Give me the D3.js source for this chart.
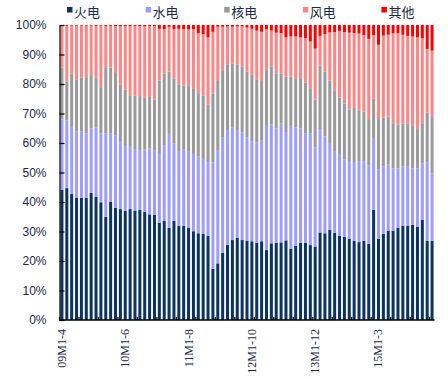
<!DOCTYPE html>
<html>
<head>
<meta charset="utf-8">
<script src="https://cdn.jsdelivr.net/npm/d3@7/dist/d3.min.js"></script>
<style>
    html, body { margin: 0; padding: 0; background: #fff; }
    svg { display: block; }
    .axis-label { font-family: "Liberation Sans", Arial, sans-serif; font-size: 12px; fill: #1b2a48; }
    .cat-label { font-family: "Liberation Serif", "Times New Roman", serif; font-size: 12px; fill: #1b2a48; }
    .legend-label { font-family: "Noto Sans CJK SC", sans-serif; font-size: 13px; fill: #1b2a48; }
</style>
</head>
<body>
<svg id="chart" width="448" height="379"></svg>
<script>
"use strict";

// categories (cumulative year-to-date months)
var categories = [
    '09M1-4', '09M1-5', '09M1-6', '09M1-7', '09M1-8', '09M1-9', '09M1-10', '09M1-11', '09M1-12',
    '10M1-2', '10M1-3', '10M1-4', '10M1-5', '10M1-6', '10M1-7', '10M1-8', '10M1-9', '10M1-10', '10M1-11', '10M1-12',
    '11M1-2', '11M1-3', '11M1-4', '11M1-5', '11M1-6', '11M1-7', '11M1-8', '11M1-9', '11M1-10', '11M1-11', '11M1-12',
    '12M1-2', '12M1-3', '12M1-4', '12M1-5', '12M1-6', '12M1-7', '12M1-8', '12M1-9', '12M1-10', '12M1-11', '12M1-12',
    '13M1-2', '13M1-3', '13M1-4', '13M1-5', '13M1-6', '13M1-7', '13M1-8', '13M1-9', '13M1-10', '13M1-11', '13M1-12',
    '14M1-2', '14M1-3', '14M1-4', '14M1-5', '14M1-6', '14M1-7', '14M1-8', '14M1-9', '14M1-10', '14M1-11', '14M1-12',
    '15M1-2', '15M1-3', '15M1-4', '15M1-5', '15M1-6', '15M1-7', '15M1-8', '15M1-9', '15M1-10', '15M1-11', '15M1-12',
    '16M1-2', '16M1-3'
];

var seriesNames = ['火电', '水电', '核电', '风电', '其他'];

var thermal = [
    44.1, 44.7, 42.7, 41.5, 41.4, 41.4, 43.1, 41.7, 39.9, 35.0, 40.0, 38.0, 37.6, 37.0, 37.6, 37.1, 37.3, 36.7, 35.8, 35.6,
    33.0, 33.6, 31.2, 33.6, 31.9, 31.9, 31.2, 30.1, 29.4, 29.2, 28.5, 17.4, 19.2, 22.8, 25.4, 27.1, 27.8, 27.1, 26.9, 26.7,
    26.2, 26.7, 23.7, 26.0, 26.2, 26.3, 27.0, 24.2, 25.1, 26.2, 26.2, 25.4, 24.9, 29.7, 29.4, 30.5, 29.6, 28.5, 28.2, 27.6,
    26.9, 26.4, 26.8, 25.8, 37.3, 27.5, 29.2, 30.2, 30.3, 31.3, 32.0, 32.0, 32.2, 31.6, 33.9, 26.9, 26.9
];

var hydro = [
    23.9, 23.0, 22.8, 22.5, 22.6, 21.9, 21.9, 23.5, 23.4, 28.3, 23.3, 24.6, 22.8, 22.1, 21.1, 20.6, 20.3, 21.1, 22.3, 21.8,
    23.3, 25.5, 31.9, 26.3, 25.4, 25.8, 26.1, 26.2, 26.0, 25.7, 25.0, 36.0, 38.4, 39.0, 39.0, 38.1, 36.6, 36.5, 35.0, 33.9,
    33.9, 34.1, 42.4, 40.3, 38.8, 40.3, 36.7, 41.6, 40.1, 38.7, 37.1, 37.9, 33.6, 35.0, 32.8, 29.2, 27.7, 27.5, 26.3, 26.3,
    26.4, 27.5, 26.9, 26.6, 24.1, 23.6, 22.8, 22.6, 21.1, 20.1, 20.0, 20.2, 19.2, 19.8, 19.2, 26.6, 22.8
];

var nuclear = [
    17.6, 13.2, 18.0, 17.4, 18.1, 19.0, 18.0, 16.8, 15.6, 22.4, 22.3, 21.1, 19.3, 19.1, 17.5, 18.3, 18.3, 17.5, 17.5, 17.4,
    24.9, 24.5, 21.1, 22.0, 22.4, 21.8, 22.0, 22.0, 21.5, 21.1, 19.4, 23.4, 23.4, 22.6, 22.3, 21.8, 22.3, 22.3, 22.3, 22.5,
    21.5, 20.2, 18.6, 19.6, 18.6, 17.0, 18.8, 16.7, 16.7, 16.8, 17.2, 15.0, 16.2, 21.5, 22.0, 21.4, 20.3, 19.4, 18.9, 17.5,
    18.6, 17.2, 17.0, 15.7, 13.6, 17.0, 16.6, 16.2, 15.3, 14.9, 14.5, 14.5, 14.4, 13.3, 13.6, 16.8, 19.4
];

var wind = [
    14.1, 18.8, 16.3, 18.4, 17.7, 17.5, 16.8, 17.7, 20.9, 14.0, 14.1, 15.9, 19.9, 21.5, 23.4, 23.7, 23.7, 24.3, 24.0, 24.8,
    17.5, 15.0, 15.2, 16.7, 19.0, 19.1, 19.2, 20.3, 20.3, 20.9, 22.9, 20.9, 18.4, 15.0, 12.8, 12.4, 12.8, 13.6, 15.0, 15.6,
    16.5, 16.7, 13.9, 12.2, 13.8, 13.6, 13.3, 13.6, 14.1, 14.1, 15.0, 16.1, 17.3, 10.1, 12.7, 16.4, 20.0, 22.6, 24.2, 26.0,
    25.4, 26.0, 25.8, 27.2, 21.5, 25.2, 27.8, 27.7, 30.5, 30.9, 30.2, 29.6, 30.3, 31.1, 28.8, 21.6, 22.2
];

var other = [
    0.3, 0.3, 0.2, 0.2, 0.2, 0.2, 0.2, 0.3, 0.2, 0.3, 0.3, 0.4, 0.4, 0.4, 0.4, 0.3, 0.4, 0.4, 0.4, 0.4,
    1.3, 1.4, 0.6, 1.4, 1.3, 1.4, 1.5, 1.4, 2.8, 3.1, 4.2, 2.3, 0.6, 0.6, 0.5, 0.6, 0.5, 0.5, 0.8, 1.3,
    1.9, 2.3, 1.4, 1.9, 2.6, 2.8, 4.2, 3.9, 3.9, 4.2, 4.5, 5.6, 8.0, 3.7, 3.1, 2.5, 2.4, 2.0, 2.4, 2.6,
    2.7, 2.9, 3.5, 4.7, 3.5, 6.7, 3.6, 3.3, 2.8, 2.8, 3.3, 3.7, 3.9, 4.2, 4.5, 8.1, 8.7
];

var yTicks = [0, 0.1, 0.2, 0.3, 0.4, 0.5, 0.6, 0.7, 0.8, 0.9, 1];

var colors = ['#0b3463', '#9d9dff', '#9a9a9a', '#ff8585', '#ff0000'];

var LABEL_EVERY = 13;
var TICK_EVERY = 4;

var margin = { top: 25, left: 59.5, right: 13.5, bottom: 59 };
var width = 448 - margin.left - margin.right;
var height = 379 - margin.top - margin.bottom;

var rows = categories.map(function(c, i) {
    return {
        cat: c,
        '火电': thermal[i],
        '水电': hydro[i],
        '核电': nuclear[i],
        '风电': wind[i],
        '其他': other[i]
    };
});

var stack = d3.stack()
    .keys(seriesNames)
    .offset(d3.stackOffsetExpand);

var layers = stack(rows);

var x = d3.scaleBand()
    .domain(categories)
    .range([0, width])
    .paddingInner(0.38)
    .paddingOuter(0.19);

var y = d3.scaleLinear()
    .domain([0, 1])
    .range([height, 0]);

var color = d3.scaleOrdinal()
    .domain(seriesNames)
    .range(colors);

var svg = d3.select('#chart');

var g = svg.append('g')
    .attr('transform', 'translate(' + margin.left + ',' + margin.top + ')');

// bars
g.selectAll('g.layer')
    .data(layers)
    .enter()
    .append('g')
    .attr('class', 'layer')
    .attr('fill', function(d) { return color(d.key); })
    .selectAll('rect')
    .data(function(d) { return d; })
    .enter()
    .append('rect')
    .attr('x', function(d) { return x(d.data.cat); })
    .attr('y', function(d) { return y(d[1]); })
    .attr('width', x.bandwidth())
    .attr('height', function(d) { return Math.max(0, y(d[0]) - y(d[1])); });

// y axis
var yAxis = d3.axisLeft(y)
    .tickValues(yTicks)
    .tickFormat(d3.format('.0%'))
    .tickSizeInner(-5)
    .tickSizeOuter(0)
    .tickPadding(13);

var yG = g.append('g')
    .attr('class', 'y-axis')
    .call(yAxis);

yG.select('.domain').attr('stroke', '#000').attr('stroke-width', 1.2);
yG.selectAll('.tick line').attr('stroke', '#000').attr('stroke-width', 1.2);
yG.selectAll('.tick text')
    .attr('class', 'axis-label')
    .attr('fill', null);

// x axis: baseline with inner ticks every few categories
var step = x.step();
var tickPositions = d3.range(0, categories.length + 1, TICK_EVERY).map(function(i) { return i * step; });

var xG = g.append('g')
    .attr('class', 'x-axis')
    .attr('transform', 'translate(0,' + height + ')');

xG.append('line')
    .attr('x1', 0)
    .attr('x2', width)
    .attr('stroke', '#000')
    .attr('stroke-width', 1.4);

xG.selectAll('line.tick')
    .data(tickPositions)
    .enter()
    .append('line')
    .attr('class', 'tick')
    .attr('x1', function(d) { return d; })
    .attr('x2', function(d) { return d; })
    .attr('y1', 0)
    .attr('y2', -3)
    .attr('stroke', '#000')
    .attr('stroke-width', 1.2);

xG.selectAll('text.cat-label')
    .data(categories.filter(function(c, i) { return i % LABEL_EVERY === 0; }))
    .enter()
    .append('text')
    .attr('class', 'cat-label')
    .attr('text-anchor', 'end')
    .attr('transform', function(d) {
        return 'translate(' + (x(d) + x.bandwidth() / 2 + 4) + ',9) rotate(-90)';
    })
    .text(function(d) { return d; });

// legend
var legend = svg.append('g')
    .attr('class', 'legend')
    .attr('transform', 'translate(67,0)');

var legendItem = legend.selectAll('g')
    .data(seriesNames)
    .enter()
    .append('g')
    .attr('transform', function(d, i) { return 'translate(' + (i * 78.6) + ',0)'; });

legendItem.append('rect')
    .attr('x', 0)
    .attr('y', 7)
    .attr('width', 5.5)
    .attr('height', 5.5)
    .attr('fill', function(d) { return color(d); });

legendItem.append('text')
    .attr('class', 'legend-label')
    .attr('x', 7)
    .attr('y', 17)
    .text(function(d) { return d; });
</script>
</body>
</html>
